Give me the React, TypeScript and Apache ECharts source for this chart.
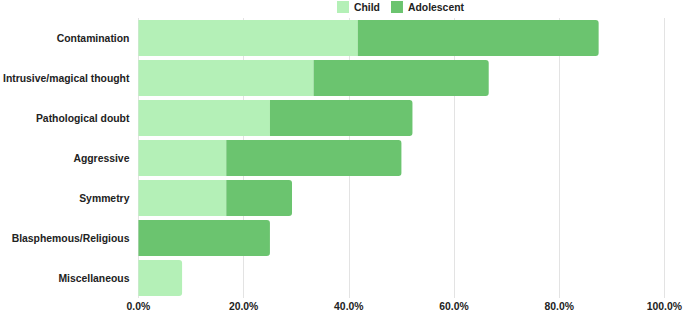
import React, { useEffect, useRef } from "react";
import * as echarts from "echarts";

const categories = [
  "Contamination",
  "Intrusive/magical thought",
  "Pathological doubt",
  "Aggressive",
  "Symmetry",
  "Blasphemous/Religious",
  "Miscellaneous",
];
const childValues = [41.7, 33.3, 25.0, 16.7, 16.7, 0, 8.3];
const adolescentValues = [45.8, 33.3, 27.1, 33.3, 12.5, 25.0, 0];
const xTicks = [0, 20, 40, 60, 80, 100];

const CHILD_COLOR = "#b4f0b7";
const ADOL_COLOR = "#6bc46f";

export default function App() {
  const ref = useRef<HTMLDivElement>(null);
  useEffect(() => {
    if (!ref.current) return;
    const chart = echarts.init(ref.current, undefined, { renderer: "svg" });
    const font = "Liberation Sans, Arial, sans-serif";
    const fs = 10.4;
    chart.setOption({
      animation: false,
      legend: {
        top: 1,
        left: 337,
        padding: 0,
        itemWidth: 12,
        itemHeight: 12,
        itemGap: 11,
        icon: "rect",
        textStyle: { fontFamily: font, fontWeight: "bold", fontSize: fs, color: "#222" },
        data: ["Child", "Adolescent"],
      },
      grid: { left: 136, right: 18, top: 18, bottom: 13, containLabel: false },
      xAxis: {
        type: "value",
        min: xTicks[0],
        max: xTicks[xTicks.length - 1],
        interval: 20,
        axisLine: { show: false },
        axisTick: { show: false },
        splitLine: { lineStyle: { color: "#e3e3e3", width: 1 } },
        axisLabel: {
          margin: 3,
          fontFamily: font,
          fontWeight: "bold",
          fontSize: fs,
          color: "#222",
          formatter: (v: number) => v.toFixed(1) + "%",
        },
      },
      yAxis: {
        type: "category",
        inverse: true,
        data: categories,
        axisLine: { show: false },
        axisTick: { show: false },
        axisLabel: {
          margin: 9,
          fontFamily: font,
          fontWeight: "bold",
          fontSize: fs,
          color: "#222",
        },
      },
      series: [
        {
          name: "Child",
          type: "bar",
          stack: "total",
          barCategoryGap: "10%",
          itemStyle: { color: CHILD_COLOR },
          data: childValues.map((v, i) => ({
            value: v,
            itemStyle: {
              borderRadius: adolescentValues[i] === 0 ? [0, 3, 3, 0] : 0,
            },
          })),
        },
        {
          name: "Adolescent",
          type: "bar",
          stack: "total",
          barCategoryGap: "10%",
          itemStyle: { color: ADOL_COLOR, borderRadius: [0, 3, 3, 0] },
          data: adolescentValues,
        },
      ],
    });
    return () => chart.dispose();
  }, []);
  return (
    <div
      ref={ref}
      style={{ position: "absolute", left: 0, top: 0, width: 685, height: 311 }}
    />
  );
}
